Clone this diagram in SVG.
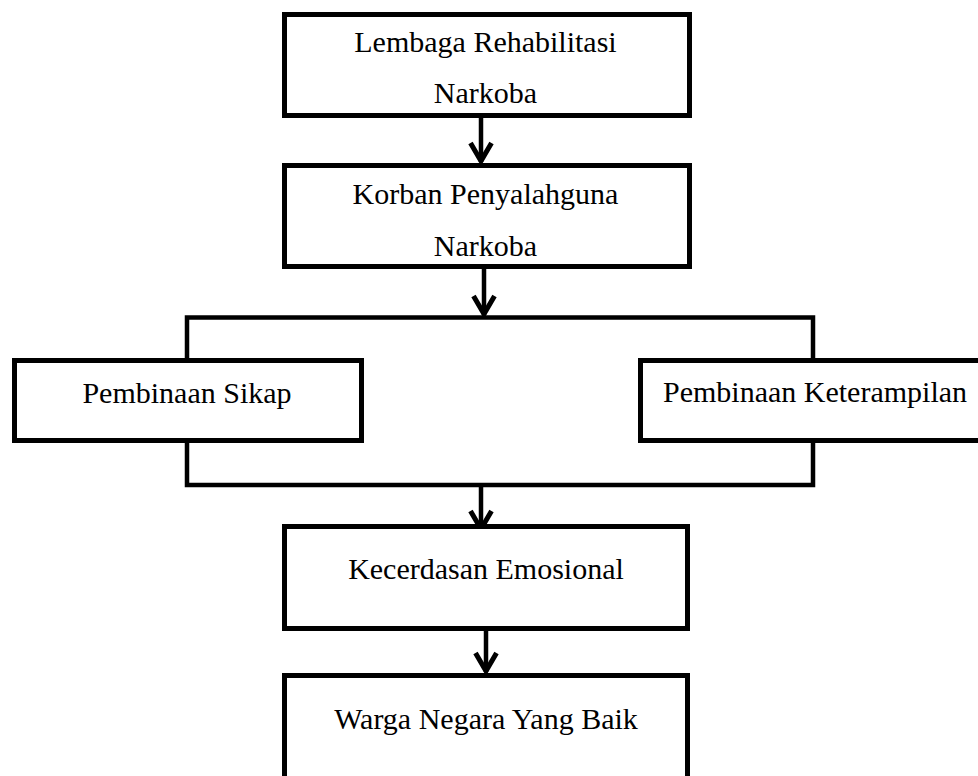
<svg xmlns="http://www.w3.org/2000/svg" width="978" height="776" viewBox="0 0 978 776">
<style>
.box{fill:#fff;stroke:#000;stroke-width:5}
.lbl{font-family:"Liberation Serif","Times New Roman",serif;font-size:30px;fill:#000;text-anchor:middle}
.con{fill:none;stroke:#000;stroke-width:4.5}
.arr{fill:none;stroke:#000;stroke-width:4.5}
</style>
<defs>
<marker id="chev" markerUnits="userSpaceOnUse" markerWidth="30" markerHeight="30" refX="0" refY="0" orient="auto" overflow="visible">
<path d="M-19,-10.5 L-1,0 L-19,10.5" fill="none" stroke="#000" stroke-width="5" stroke-linejoin="miter"/>
</marker>
</defs>
<rect width="978" height="776" fill="#fff"/>
<g id="connectors">
<line class="arr" x1="481" y1="118" x2="481" y2="162" marker-end="url(#chev)"/>
<line class="arr" x1="484" y1="268" x2="484" y2="315" marker-end="url(#chev)"/>
<polyline class="con" points="187,360 187,317.5 813,317.5 813,360"/>
<polyline class="con" points="187,441 187,485 813,485 813,441"/>
<line class="arr" x1="481" y1="485" x2="481" y2="530" marker-end="url(#chev)"/>
<line class="arr" x1="486" y1="630" x2="486" y2="672" marker-end="url(#chev)"/>
</g>
<g id="node-lembaga">
<rect class="box" x="284.5" y="14.5" width="405" height="101"/>
<text class="lbl" x="485.5" y="52">Lembaga Rehabilitasi</text>
<text class="lbl" x="485.5" y="103">Narkoba</text>
</g>
<g id="node-korban">
<rect class="box" x="284.5" y="165.5" width="405" height="101"/>
<text class="lbl" x="485.5" y="204">Korban Penyalahguna</text>
<text class="lbl" x="485.5" y="256">Narkoba</text>
</g>
<g id="node-sikap">
<rect class="box" x="14.5" y="360.5" width="347" height="80"/>
<text class="lbl" x="187" y="403">Pembinaan Sikap</text>
</g>
<g id="node-keterampilan">
<rect class="box" x="640.5" y="360.5" width="360" height="80"/>
<text class="lbl" x="815" y="402">Pembinaan Keterampilan</text>
</g>
<g id="node-kecerdasan">
<rect class="box" x="284.5" y="526.5" width="403" height="102"/>
<text class="lbl" x="486" y="579">Kecerdasan Emosional</text>
</g>
<g id="node-warga">
<rect class="box" x="284.5" y="675.5" width="403" height="130"/>
<text class="lbl" x="486" y="729">Warga Negara Yang Baik</text>
</g>
</svg>
